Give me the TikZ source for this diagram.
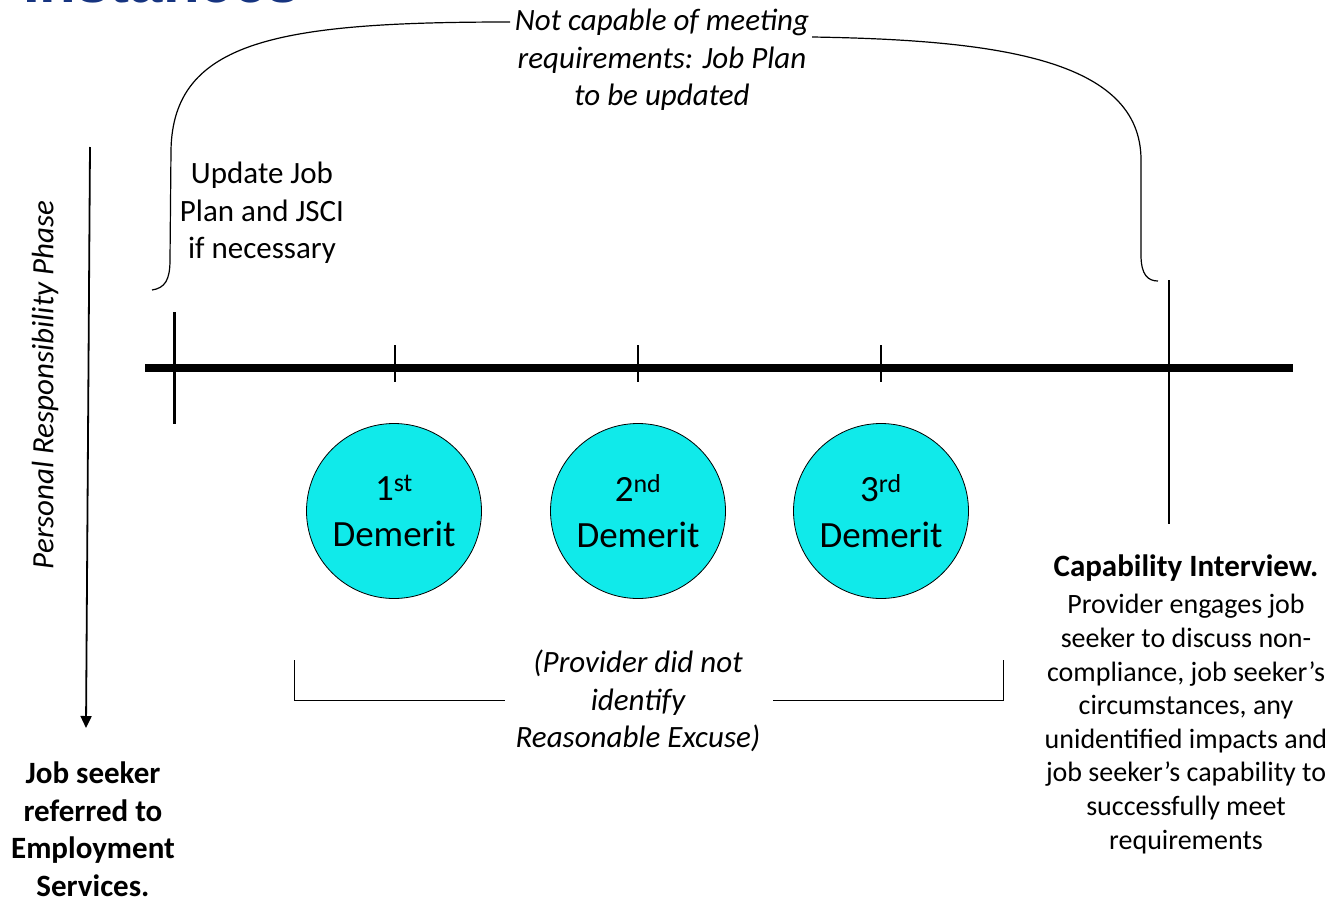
\documentclass[tikz,border=0pt]{standalone}
\usepackage{fontspec}
\setmainfont{Carlito}
\newfontfamily\headfont{Liberation Sans}
\usetikzlibrary{arrows.meta}
\definecolor{demeritcyan}{RGB}{16,234,234}
\definecolor{headblue}{RGB}{22,52,128}

\begin{document}
\begin{tikzpicture}[x=1pt,y=-1pt,
  demerit/.style={circle, draw=black, line width=0.8pt, fill=demeritcyan,
    minimum size=175pt, inner sep=0pt, align=center,
    font=\fontsize{37}{46}\selectfont},
  note/.style={align=center, inner sep=0pt, font=\fontsize{31}{37.5}\selectfont},
  inote/.style={note, font=\fontsize{31}{37.5}\selectfont\itshape},
  bnote/.style={align=center, inner sep=0pt, font=\fontsize{31}{37.5}\selectfont\bfseries},
  small/.style={align=center, inner sep=0pt, font=\fontsize{28}{33.6}\selectfont},
  brace/.style={line width=1.2pt},
  bracket/.style={line width=1pt},
  tick/.style={line width=1.5pt},
]
\useasboundingbox (0,0) rectangle (1332,902);
\clip (0,0) rectangle (1332,902);
\fill[white] (0,0) rectangle (1332,902);

% heading, cut off along the top edge
\node[anchor=base east, inner sep=0pt, text=headblue,
  font=\fontsize{60}{60}\selectfont\headfont\bfseries] (head) at (300,2.5) {Instances};

% main timeline and its ticks
\coordinate (tlL) at (145,368);
\coordinate (tlR) at (1293,368);
\draw[line width=8pt] (tlL) -- (tlR);

\coordinate (startT) at (174,312);
\coordinate (startB) at (174,424);
\draw[line width=3pt] (startT) -- (startB);

\coordinate (endT) at (1169,280);
\coordinate (endB) at (1169,524);
\draw[line width=2pt] (endT) -- (endB);

\foreach \x/\n in {395/a,638/b,881/c}{
  \coordinate (t\n T) at (\x,345);
  \coordinate (t\n B) at (\x,382);
  \draw[tick] (t\n T) -- (t\n B);
}

% demerit circles
\node[demerit] (d1) at (394,511) {1\textsuperscript{st}\\Demerit};
\node[demerit] (d2) at (638,511) {2\textsuperscript{nd}\\Demerit};
\node[demerit] (d3) at (881,511) {3\textsuperscript{rd}\\Demerit};

% phase arrow on the left
\coordinate (phaseTop) at (90,147);
\coordinate (phaseEnd) at (86,728);
\draw[line width=1.8pt, -{Triangle[length=12pt,width=11pt]}] (phaseTop) -- (phaseEnd);
\node[inote, rotate=90] (phase) at (45,385)
  {Personal Responsibility Phase};

\node[bnote] (referred) at (93,829)
  {Job seeker\\referred to\\Employment\\Services.};

% upper brace and its label
\node[inote] (notcap) at (662,60)
  {Not capable of meeting\\requirements: Job Plan\\to be updated};
\coordinate (braceL) at (152,290);
\coordinate (braceLm) at (510,22);
\coordinate (braceRm) at (812,37);
\coordinate (braceR) at (1158,281);
\draw[brace] (braceL) .. controls (165,288) and (170,280) .. (170,260)
  -- (171,150) .. controls (173,40) and (280,22) .. (braceLm);
\draw[brace] (braceRm) .. controls (1000,40) and (1141,60) .. (1141,160)
  -- (1141,255) .. controls (1141,275) and (1148,281) .. (braceR);

\node[note] (update) at (262,213) {Update Job\\Plan and JSCI\\if necessary};

% lower bracket with its label
\node[inote] (excuse) at (638,701)
  {(Provider did not\\identify\\Reasonable Excuse)};
\coordinate (brL) at (294,660);
\coordinate (brLi) at (505,700);
\coordinate (brRi) at (773,700);
\coordinate (brR) at (1003,660);
\draw[bracket] (brL) |- (brLi);
\draw[bracket] (brRi) -| (brR);

% capability interview text
\node[bnote] (capTitle) at (1186,568)
  {Capability Interview.};
\node[small] (capBody) at (1186,724)
  {Provider engages job\\seeker to discuss non-\\compliance, job seeker’s\\circumstances, any\\unidentified impacts and\\job seeker’s capability to\\successfully meet\\requirements};
\end{tikzpicture}
\end{document}
